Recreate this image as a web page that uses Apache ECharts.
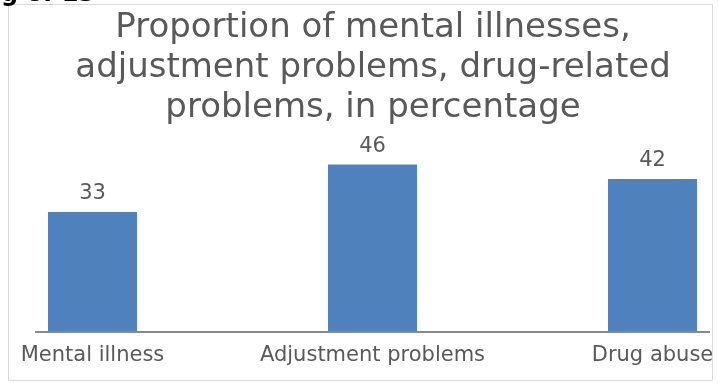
<!DOCTYPE html>
<html>
<head>
<meta charset="utf-8">
<script src="https://cdn.jsdelivr.net/npm/echarts@6/dist/echarts.min.js"></script>
<style>
  html, body { margin: 0; padding: 0; background: #ffffff; }
  #chart { width: 718px; height: 383px; }
</style>
</head>
<body>
<div id="chart"></div>
<script>
// Share of respondents with each kind of problem, in percent
const categories = ['Mental illness', 'Adjustment problems', 'Drug abuse'];
const percentages = [33, 46, 42];
const titleText = 'Proportion of mental illnesses,\nadjustment problems, drug-related\nproblems, in percentage';

const FONT = "'DejaVu Sans', Verdana, sans-serif";
const TEXT_GREY = '#595959';

const chart = echarts.init(document.getElementById('chart'), null, { renderer: 'canvas' });

chart.setOption({
  backgroundColor: '#ffffff',
  animation: false,
  title: {
    text: titleText,
    left: 373,
    top: 8,
    padding: 0,
    textAlign: 'center',
    textStyle: {
      fontFamily: FONT,
      fontSize: 34,
      fontWeight: 'normal',
      color: TEXT_GREY,
      lineHeight: 40
    }
  },
  grid: {
    left: 92.5,
    right: 65.5,
    top: 150,
    bottom: 51,
    containLabel: false
  },
  xAxis: {
    type: 'category',
    data: categories,
    boundaryGap: false,
    axisLine: { show: false },
    axisTick: { show: false },
    axisLabel: {
      interval: 0,
      margin: 13,
      fontFamily: FONT,
      fontSize: 21,
      color: TEXT_GREY
    }
  },
  yAxis: {
    type: 'value',
    min: 0,
    max: 50,
    show: false,
    splitLine: { show: false }
  },
  series: [{
    type: 'bar',
    data: percentages,
    barWidth: 89,
    clip: false,
    itemStyle: { color: '#4f81bd' },
    label: {
      show: true,
      position: 'top',
      distance: 8,
      fontFamily: FONT,
      fontSize: 21,
      color: TEXT_GREY
    }
  }],
  graphic: [
    {
      // chart frame
      type: 'rect',
      z: -1,
      shape: { x: 8.5, y: 4.5, width: 704, height: 376 },
      style: { fill: '#ffffff', stroke: '#d9d9d9', lineWidth: 1 }
    },
    {
      // category baseline
      type: 'line',
      z: 10,
      shape: { x1: 35, y1: 332, x2: 710, y2: 332 },
      style: { stroke: '#898989', lineWidth: 2 }
    },
    {
      // page header text running off the top edge
      type: 'text',
      x: 1,
      y: -5,
      style: {
        text: 'g of 13',
        font: "bold 24px 'DejaVu Sans', sans-serif",
        fill: '#000000',
        verticalAlign: 'middle'
      }
    }
  ]
});
</script>
</body>
</html>
